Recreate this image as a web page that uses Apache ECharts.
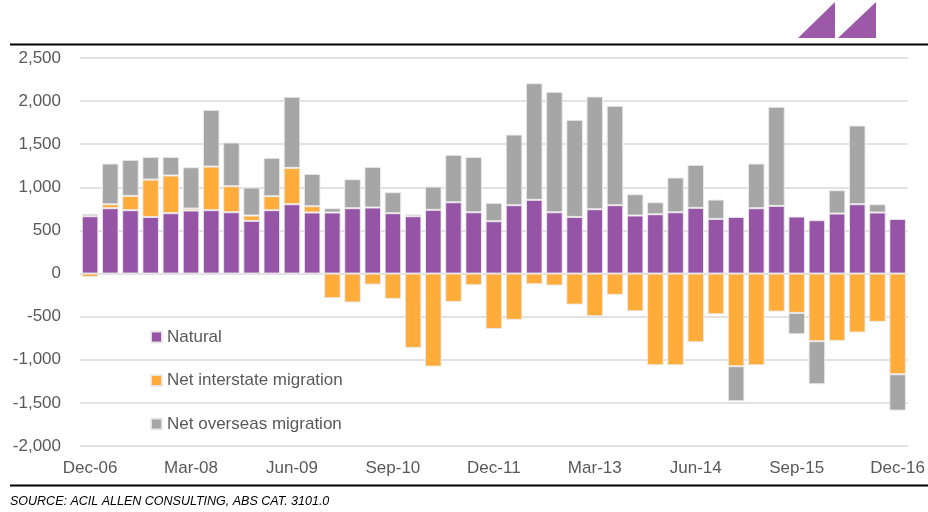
<!DOCTYPE html>
<html>
<head>
<meta charset="utf-8">
<script src="https://cdn.jsdelivr.net/npm/echarts@6/dist/echarts.min.js"></script>
<style>
  html, body { margin: 0; padding: 0; background: #fff; }
  #chart { width: 928px; height: 512px; }
</style>
</head>
<body>
<div id="chart"></div>
<script>
  // quarters, Dec-06 .. Dec-16
  const quarters = [
    'Dec-06', 'Mar-07', 'Jun-07', 'Sep-07', 'Dec-07', 'Mar-08', 'Jun-08', 'Sep-08', 'Dec-08',
    'Mar-09', 'Jun-09', 'Sep-09', 'Dec-09', 'Mar-10', 'Jun-10', 'Sep-10', 'Dec-10',
    'Mar-11', 'Jun-11', 'Sep-11', 'Dec-11', 'Mar-12', 'Jun-12', 'Sep-12', 'Dec-12',
    'Mar-13', 'Jun-13', 'Sep-13', 'Dec-13', 'Mar-14', 'Jun-14', 'Sep-14', 'Dec-14',
    'Mar-15', 'Jun-15', 'Sep-15', 'Dec-15', 'Mar-16', 'Jun-16', 'Sep-16', 'Dec-16'
  ];
  const natural = [665, 758, 735, 657, 700, 731, 735, 711, 611, 735, 804, 708, 708, 758, 766, 700, 665,
    739, 827, 711, 607, 793, 855, 711, 657, 746, 793, 673, 688, 711, 762, 634, 657, 758, 785, 661,
    619, 696, 804, 708, 634];
  const interstate = [-40, 46, 166, 433, 437, 23, 506, 302, 62, 162, 422, 73, -286, -336, -128, -294,
    -862, -1079, -329, -135, -642, -537, -124, -139, -360, -495, -247, -437, -1064, -1064, -797, -472,
    -1075, -1064, -441, -456, -785, -781, -684, -560, -1168];
  const overseas = [28, 472, 418, 263, 216, 479, 658, 507, 325, 445, 824, 375, 50, 336, 471, 243, 23,
    270, 550, 642, 213, 819, 1353, 1397, 1126, 1307, 1152, 247, 139, 403, 499, 224, -406, 518, 1149,
    -248, -499, 271, 913, 96, -421];
  const yTicks = { min: -2000, max: 2500, step: 500 };

  const labelColor = '#595959';
  const font = "'Liberation Sans', Arial, sans-serif";

  const chart = echarts.init(document.getElementById('chart'));

  const barSeries = (name, data, color) => ({
    name: name,
    type: 'bar',
    stack: 'total',
    barWidth: '82%',
    itemStyle: { color: color, borderColor: 'rgba(235,235,235,0.9)', borderWidth: 1 },
    data: data
  });

  chart.setOption({
    animation: false,
    grid: { left: 80, right: 19, top: 58, bottom: 66 },
    legend: {
      orient: 'vertical',
      left: 150,
      top: 327,
      padding: 0,
      icon: 'rect',
      itemWidth: 11,
      itemHeight: 11,
      itemGap: 23.5,
      textStyle: { color: labelColor, fontSize: 17, fontFamily: font, lineHeight: 20 },
      data: ['Natural', 'Net interstate migration', 'Net overseas migration']
    },
    xAxis: {
      type: 'category',
      data: quarters,
      axisLine: { show: false, onZero: false },
      axisTick: { show: false },
      axisLabel: { interval: 4, color: labelColor, fontSize: 17, fontFamily: font, margin: 14 }
    },
    yAxis: {
      type: 'value',
      min: yTicks.min,
      max: yTicks.max,
      interval: yTicks.step,
      axisLine: { show: false },
      axisTick: { show: false },
      splitLine: { lineStyle: { color: '#d9d9d9', width: 1.5 } },
      axisLabel: {
        color: labelColor, fontSize: 17, fontFamily: font, margin: 19,
        formatter: v => v.toLocaleString('en-US')
      }
    },
    series: [
      barSeries('Natural', natural, '#9654a7'),
      barSeries('Net interstate migration', interstate, '#ffac3b'),
      barSeries('Net overseas migration', overseas, '#a6a6a6')
    ],
    graphic: [
      // header rule and logo
      { type: 'line', shape: { x1: 10, y1: 44.5, x2: 928, y2: 44.5 }, style: { stroke: '#000', lineWidth: 2 } },
      { type: 'polygon', shape: { points: [[798, 38], [835, 38], [835, 2]] }, style: { fill: '#9b59a8' } },
      { type: 'polygon', shape: { points: [[838, 38], [876, 38], [876, 2]] }, style: { fill: '#9b59a8' } },
      // footer rule and source
      { type: 'line', shape: { x1: 10, y1: 485.5, x2: 928, y2: 485.5 }, style: { stroke: '#000', lineWidth: 2 } },
      {
        type: 'text', left: 10, top: 495,
        style: {
          text: 'SOURCE: ACIL ALLEN CONSULTING, ABS CAT. 3101.0',
          fill: '#000', fontSize: 12.5, fontStyle: 'italic',
          fontFamily: "'Liberation Sans Narrow', 'Arial Narrow', 'Liberation Sans', sans-serif"
        }
      }
    ]
  });
</script>
</body>
</html>
